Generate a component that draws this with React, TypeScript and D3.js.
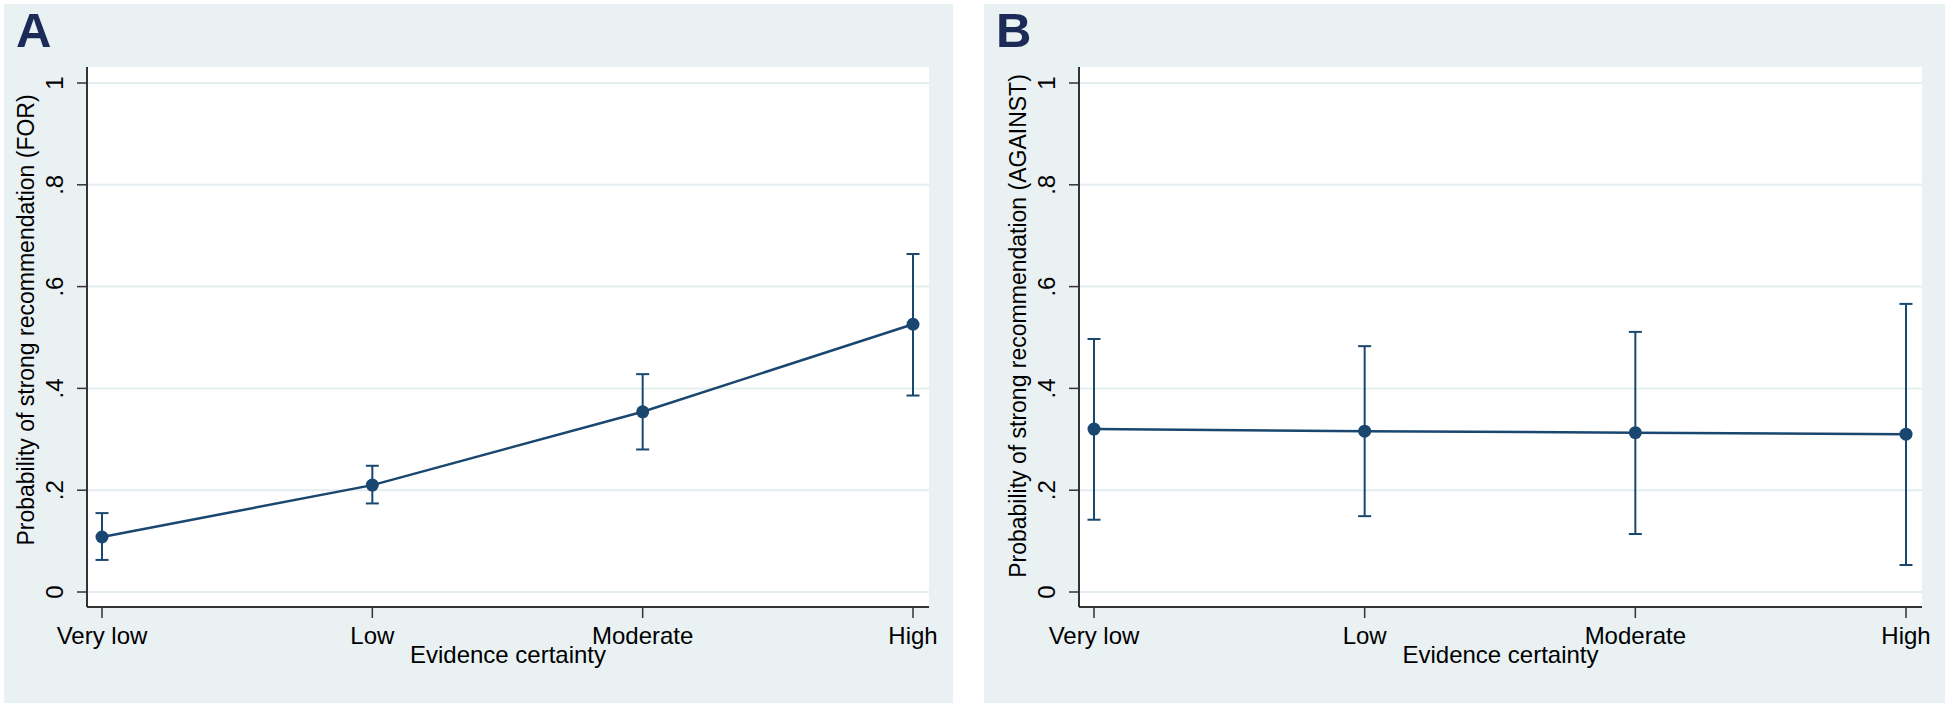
import React from "react";
import * as d3 from "d3";

const categories = ["Very low", "Low", "Moderate", "High"];
const yTicks = [0, 0.2, 0.4, 0.6, 0.8, 1];
const yTickLabels = ["0", ".2", ".4", ".6", ".8", "1"];

const forEstimate = [0.108, 0.210, 0.354, 0.526];
const forLower = [0.063, 0.174, 0.280, 0.386];
const forUpper = [0.155, 0.248, 0.428, 0.664];

const againstEstimate = [0.320, 0.316, 0.313, 0.310];
const againstLower = [0.142, 0.149, 0.114, 0.053];
const againstUpper = [0.497, 0.483, 0.511, 0.566];

const BG = "#e9f1f3";
const GRID = "#e4edf0";
const NAVY = "#1a476f";
const FONT = "'Liberation Sans', Arial, sans-serif";

type PanelProps = {
  letter: string;
  bgX0: number;
  bgX1: number;
  plotX0: number;
  plotX1: number;
  yTitle: string;
  titleY: number;
  est: number[];
  lo: number[];
  hi: number[];
};

function Panel({ letter, bgX0, bgX1, plotX0, plotX1, yTitle, titleY, est, lo, hi }: PanelProps) {
  const plotY0 = 67;
  const plotY1 = 607;
  const x = d3.scalePoint<string>().domain(categories).range([plotX0 + 15, plotX1 - 16]);
  const y = d3.scaleLinear().domain([0, 1]).range([592, 83]);
  const line = d3
    .line<number>()
    .x((_, i) => x(categories[i]) as number)
    .y((d) => y(d));
  const cap = 6.5;
  return (
    <g>
      <rect x={bgX0} y={4} width={bgX1 - bgX0} height={699} fill={BG} />
      <text x={bgX0 + 12} y={47} fontFamily={FONT} fontWeight="bold" fontSize={49} fill="#1c2a58">
        {letter}
      </text>
      <rect x={plotX0} y={plotY0} width={plotX1 - plotX0} height={plotY1 - plotY0} fill="#ffffff" />
      {yTicks.map((t) => (
        <line key={"g" + t} x1={plotX0} x2={plotX1} y1={y(t)} y2={y(t)} stroke={GRID} strokeWidth={2} />
      ))}
      <line x1={plotX0} x2={plotX0} y1={plotY0} y2={plotY1} stroke="#333" strokeWidth={2} />
      <line x1={plotX0} x2={plotX1} y1={plotY1} y2={plotY1} stroke="#333" strokeWidth={2} />
      {yTicks.map((t, i) => (
        <g key={"yt" + t}>
          <line x1={plotX0 - 10} x2={plotX0} y1={y(t)} y2={y(t)} stroke="#333" strokeWidth={1.5} />
          <text
            transform={`translate(${plotX0 - 24},${y(t)}) rotate(-90)`}
            textAnchor="middle"
            fontFamily={FONT}
            fontSize={24}
            fill="#000"
          >
            {yTickLabels[i]}
          </text>
        </g>
      ))}
      {categories.map((c) => (
        <g key={"xt" + c}>
          <line x1={x(c)} x2={x(c)} y1={plotY1} y2={plotY1 + 11} stroke="#333" strokeWidth={1.5} />
          <text x={x(c)} y={644} textAnchor="middle" fontFamily={FONT} fontSize={24} fill="#000">
            {c}
          </text>
        </g>
      ))}
      <text
        x={(plotX0 + plotX1) / 2}
        y={663}
        textAnchor="middle"
        fontFamily={FONT}
        fontSize={24}
        fill="#000"
      >
        Evidence certainty
      </text>
      <text
        transform={`translate(${plotX0 - 53},${titleY}) rotate(-90)`}
        textAnchor="middle"
        fontFamily={FONT}
        fontSize={23}
        fill="#000"
      >
        {yTitle}
      </text>
      {categories.map((c, i) => {
        const cx = x(c) as number;
        return (
          <g key={"eb" + c} stroke={NAVY} strokeWidth={2}>
            <line x1={cx} x2={cx} y1={y(lo[i])} y2={y(hi[i])} />
            <line x1={cx - cap} x2={cx + cap} y1={y(lo[i])} y2={y(lo[i])} />
            <line x1={cx - cap} x2={cx + cap} y1={y(hi[i])} y2={y(hi[i])} />
          </g>
        );
      })}
      <path d={line(est) ?? ""} fill="none" stroke={NAVY} strokeWidth={2.5} />
      {categories.map((c, i) => (
        <circle key={"pt" + c} cx={x(c)} cy={y(est[i])} r={6.5} fill={NAVY} />
      ))}
    </g>
  );
}

export default function App() {
  return (
    <svg
      width={1950}
      height={708}
      style={{ position: "absolute", left: 0, top: 0, display: "block" }}
      xmlns="http://www.w3.org/2000/svg"
    >
      <rect x={0} y={0} width={1950} height={708} fill="#ffffff" />
      <Panel
        letter="A"
        bgX0={4}
        bgX1={953}
        plotX0={87}
        plotX1={929}
        yTitle="Probability of strong recommendation (FOR)"
        titleY={320}
        est={forEstimate}
        lo={forLower}
        hi={forUpper}
      />
      <Panel
        letter="B"
        bgX0={984}
        bgX1={1945}
        plotX0={1079}
        plotX1={1922}
        yTitle="Probability of strong recommendation (AGAINST)"
        titleY={326}
        est={againstEstimate}
        lo={againstLower}
        hi={againstUpper}
      />
    </svg>
  );
}
